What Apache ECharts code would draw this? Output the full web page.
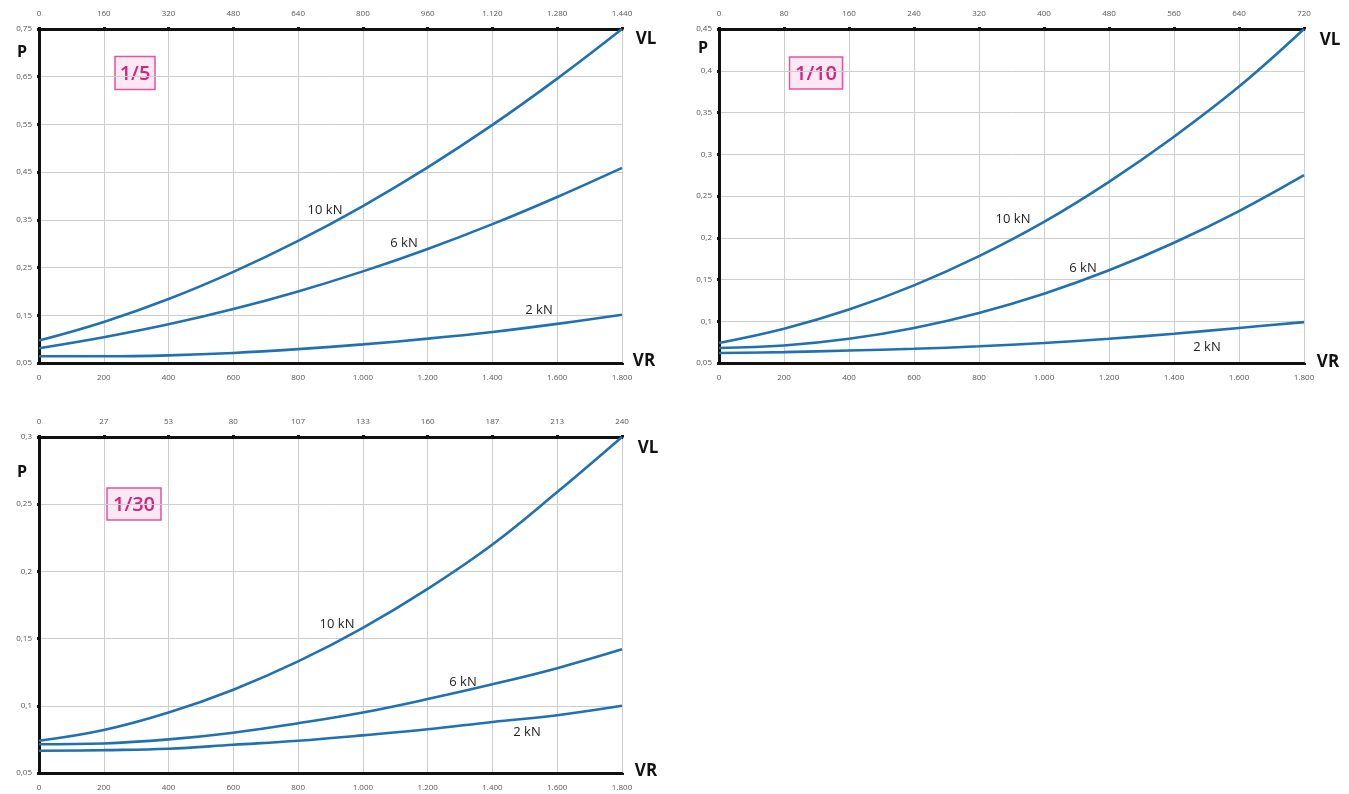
<!DOCTYPE html>
<html><head><meta charset="utf-8">
<script src="https://cdn.jsdelivr.net/npm/echarts@6/dist/echarts.min.js"></script>
<style>html,body{margin:0;padding:0;background:#fff}#c{width:1349px;height:794px}</style>
</head><body><div id="c"></div>
<script>
// ---- data ----
const vr = [0, 200, 400, 600, 800, 1000, 1200, 1400, 1600, 1800];
// ratio 1/5
const r5_10kN = [0.097, 0.136, 0.184, 0.241, 0.306, 0.379, 0.460, 0.549, 0.646, 0.750];
const r5_6kN  = [0.081, 0.104, 0.131, 0.163, 0.200, 0.242, 0.289, 0.341, 0.398, 0.459];
const r5_2kN  = [0.064, 0.064, 0.066, 0.071, 0.079, 0.089, 0.101, 0.115, 0.132, 0.151];
// ratio 1/10
const r10_10kN = [0.074, 0.091, 0.114, 0.143, 0.178, 0.219, 0.267, 0.321, 0.381, 0.450];
const r10_6kN  = [0.068, 0.071, 0.079, 0.092, 0.110, 0.133, 0.161, 0.194, 0.232, 0.275];
const r10_2kN  = [0.062, 0.063, 0.065, 0.067, 0.070, 0.074, 0.079, 0.085, 0.092, 0.099];
// ratio 1/30
const r30_10kN = [0.074, 0.082, 0.095, 0.112, 0.133, 0.158, 0.187, 0.220, 0.259, 0.300];
const r30_6kN  = [0.0714, 0.072, 0.075, 0.080, 0.087, 0.095, 0.105, 0.116, 0.128, 0.142];
const r30_2kN  = [0.0665, 0.067, 0.068, 0.071, 0.074, 0.078, 0.0825, 0.088, 0.093, 0.100];
// top-axis (VL) tick labels
const vlTicks5  = ['0','160','320','480','640','800','960','1.120','1.280','1.440'];
const vlTicks10 = ['0','80','160','240','320','400','480','560','640','720'];
const vlTicks30 = ['0','27','53','80','107','133','160','187','213','240'];
const seriesNames = ['10 kN', '6 kN', '2 kN'];
const ratioLabels = ['1/5', '1/10', '1/30'];

// ---- chart ----
const chart = echarts.init(document.getElementById('c'));
const FONT = '"Open Sans", "Noto Sans", sans-serif';
const BLUE = '#2171b0';
const grids = [
  {left: 39, top: 29, width: 583, height: 334},
  {left: 719, top: 29, width: 585, height: 334},
  {left: 39, top: 437, width: 583, height: 336}
];
const yCfg = [
  {min: 0.05, max: 0.75, interval: 0.1},
  {min: 0.05, max: 0.45, interval: 0.05},
  {min: 0.05, max: 0.30, interval: 0.05}
];
const topTicks = [vlTicks5, vlTicks10, vlTicks30];
const data = [[r5_10kN, r5_6kN, r5_2kN], [r10_10kN, r10_6kN, r10_2kN], [r30_10kN, r30_6kN, r30_2kN]];

function thousands(v) {
  return String(Math.round(v)).replace(/\B(?=(\d{3})+(?!\d))/g, '.');
}
function dec(v) {
  return String(parseFloat(v.toFixed(3))).replace('.', ',');
}

const axisLineBlack = {show: true, lineStyle: {color: '#111', width: 3}};
const tickBlack = {show: true, length: 2, lineStyle: {color: '#111', width: 3}};
const labelStyle = {color: '#555', fontSize: 8, fontFamily: FONT};
const gridLine = {show: true, lineStyle: {color: '#cdcdcd', width: 1}};

const xAxis = [], yAxis = [], series = [];
grids.forEach((g, i) => {
  xAxis.push({
    type: 'value', gridIndex: i, position: 'bottom', min: 0, max: 1800, interval: 200,
    axisLine: axisLineBlack, axisTick: tickBlack,
    axisLabel: Object.assign({margin: 11, formatter: v => thousands(v)}, labelStyle),
    splitLine: gridLine
  });
  const tt = topTicks[i];
  xAxis.push({
    type: 'value', gridIndex: i, position: 'top', min: 0, max: 1800, interval: 200,
    axisLine: axisLineBlack, axisTick: tickBlack,
    axisLabel: Object.assign({margin: 11, formatter: v => tt[Math.round(v / 200)]}, labelStyle),
    splitLine: {show: false}
  });
  yAxis.push(Object.assign({
    type: 'value', gridIndex: i,
    axisLine: axisLineBlack, axisTick: tickBlack,
    axisLabel: Object.assign({margin: 7, formatter: v => dec(v)}, labelStyle),
    splitLine: gridLine
  }, yCfg[i]));
  data[i].forEach((arr, k) => {
    series.push({
      name: seriesNames[k] + ' ' + ratioLabels[i], type: 'line', smooth: 0.4,
      xAxisIndex: i * 2, yAxisIndex: i, showSymbol: false, symbol: 'none',
      lineStyle: {color: BLUE, width: 2.6}, itemStyle: {color: BLUE},
      data: vr.map((x, j) => [x, arr[j]])
    });
  });
});

function txt(x, y, s, size, weight, color) {
  return {type: 'text', x: x, y: y, style: {text: s, fontSize: size, fontWeight: weight, fill: color || '#222',
    fontFamily: FONT, align: 'center', verticalAlign: 'middle'}};
}
function box(cx, cy, w, h, s) {
  return {type: 'group', x: cx, y: cy, children: [
    {type: 'rect', shape: {x: -w / 2, y: -h / 2, width: w, height: h},
     style: {fill: '#fde8f4', stroke: '#e0559d', lineWidth: 1.5}},
    {type: 'text', style: {text: s, x: 0, y: 1, fontSize: 20, fontWeight: 600, fill: '#d12480', fontFamily: FONT,
      align: 'center', verticalAlign: 'middle'}}
  ]};
}
const graphic = [
  txt(22, 52, 'P', 16, 'bold', '#111'), txt(646, 39, 'VL', 17, 'bold', '#111'), txt(644, 361, 'VR', 17, 'bold', '#111'),
  txt(703, 48, 'P', 16, 'bold', '#111'), txt(1330, 40, 'VL', 17, 'bold', '#111'), txt(1328, 362, 'VR', 17, 'bold', '#111'),
  txt(22, 472, 'P', 16, 'bold', '#111'), txt(648, 448, 'VL', 17, 'bold', '#111'), txt(646, 771, 'VR', 17, 'bold', '#111'),
  box(135, 73, 40, 33, ratioLabels[0]), box(816, 73, 53, 32, ratioLabels[1]), box(134, 504, 54, 32, ratioLabels[2]),
  txt(325, 210, seriesNames[0], 13, 'normal'), txt(404, 243, seriesNames[1], 13, 'normal'), txt(539, 310, seriesNames[2], 13, 'normal'),
  txt(1013, 219, seriesNames[0], 13, 'normal'), txt(1083, 268, seriesNames[1], 13, 'normal'), txt(1207, 347, seriesNames[2], 13, 'normal'),
  txt(337, 624, seriesNames[0], 13, 'normal'), txt(463, 682, seriesNames[1], 13, 'normal'), txt(527, 732, seriesNames[2], 13, 'normal')
];

chart.setOption({
  animation: false,
  grid: grids.map(g => Object.assign({containLabel: false}, g)),
  xAxis: xAxis, yAxis: yAxis, series: series, graphic: graphic
});
</script></body></html>
